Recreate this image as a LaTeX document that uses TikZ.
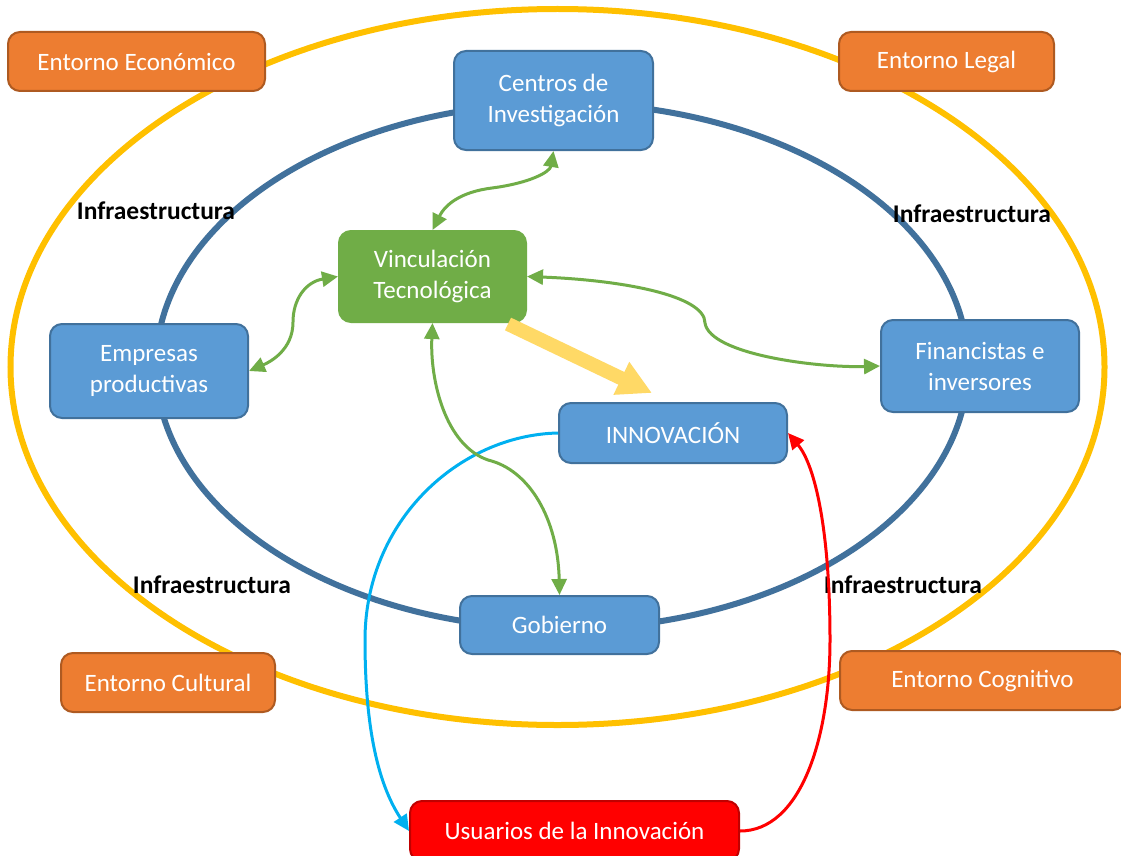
\documentclass[tikz,border=0pt]{standalone}
\usepackage{fontspec}
\setmainfont{Carlito}
\usetikzlibrary{arrows.meta}
\definecolor{orangeF}{HTML}{ED7D31}
\definecolor{orangeD}{HTML}{AE5A21}
\definecolor{blueF}{HTML}{5B9BD5}
\definecolor{blueD}{HTML}{41719C}
\definecolor{greenF}{HTML}{70AD47}
\definecolor{yel}{HTML}{FFC000}
\definecolor{yelA}{HTML}{FFD966}
\definecolor{cyanL}{HTML}{00B0F0}
\definecolor{redD}{HTML}{C00000}
\begin{document}
\begin{tikzpicture}[x=1pt,y=-1pt,
 box/.style={rounded corners=12pt, line width=2pt, inner sep=0pt, align=center, text=white, font=\fontsize{25}{31}\selectfont},
 orangebox/.style={box, fill=orangeF, draw=orangeD},
 bluebox/.style={box, fill=blueF, draw=blueD},
 greenbox/.style={box, fill=greenF, draw=greenF},
 redbox/.style={box, fill=red, draw=redD},
 lbl/.style={font=\fontsize{25.5}{30}\selectfont\bfseries, text=black, inner sep=0pt},
 garrow/.style={draw=greenF, line width=3pt, {Triangle[length=16pt,width=15pt]}-{Triangle[length=16pt,width=15pt]}},
 carrow/.style={line width=3pt, -{Triangle[length=16pt,width=15pt]}},
]
\useasboundingbox (0,0) rectangle (1121,856);
\fill[white] (0,0) rectangle (1121,856);
% ellipses
\draw[yel, line width=6pt] (557.5,367) ellipse [x radius=547, y radius=358];
\draw[blueD, line width=6pt] (562,366) ellipse [x radius=406, y radius=263];
% labels
\node[lbl] (i1) at (156,211) {Infraestructura};
\node[lbl] (i2) at (972,214) {Infraestructura};
\node[lbl] (i3) at (212,585) {Infraestructura};
\node[lbl] (i4) at (903,585) {Infraestructura};
% nodes
\node[orangebox, minimum width=257pt, minimum height=59pt] (eco) at (136.5,61.5) {Entorno Económico};
\node[orangebox, minimum width=215pt, minimum height=59pt] (legal) at (946.5,61.5) {Entorno Legal};
\node[orangebox, minimum width=214pt, minimum height=59pt] (cult) at (168,682.5) {Entorno Cultural};
\node[orangebox, minimum width=285pt, minimum height=59pt] (cogn) at (982.5,680.5) {Entorno Cognitivo};
\node[bluebox, minimum width=199pt, minimum height=99pt] (centros) at (553.5,100.5) {Centros de\\Investigación};
\node[greenbox, minimum width=187pt, minimum height=91pt] (vinc) at (432.5,276.5) {Vinculación\\Tecnológica};
\node[bluebox, minimum width=198pt, minimum height=94pt] (emp) at (149,371) {Empresas\\productivas};
\node[bluebox, minimum width=198pt, minimum height=92pt] (fin) at (980,366) {Financistas e\\inversores};
\node[bluebox, minimum width=228pt, minimum height=60pt] (innov) at (673,433) {INNOVACIÓN};
\node[bluebox, minimum width=199pt, minimum height=58pt] (gob) at (559.5,625) {Gobierno};
\node[redbox, minimum width=329pt, minimum height=60pt] (usu) at (574.5,831) {Usuarios de la Innovación};
% green connectors
\draw[garrow] (vinc.north) .. controls (445,205) and (460,192) .. (492,188) .. controls (530,183) and (550,172) .. (centros.south);
\draw[garrow] (vinc.west) .. controls (305,282) and (293,300) .. (293,322) .. controls (293,350) and (270,362) .. (emp.east);
\draw[garrow] (vinc.east) .. controls (620,280) and (705,295) .. (705,323) .. controls (710,355) and (820,368) .. (fin.west);
\draw[cyanL, carrow] (innov.west) .. controls (460,435) and (365,520) .. (365,640) .. controls (365,740) and (382,790) .. (usu.west);
\draw[garrow] (vinc.south) .. controls (430,380) and (445,445) .. (488,460) .. controls (530,470) and (558,520) .. (gob.north);
\draw[red, carrow] (usu.east) .. controls (800,831) and (830,740) .. (830,640) .. controls (830,530) and (815,465) .. (innov.east);
% yellow arrow
\coordinate (ya) at (508,324);
\coordinate (yb) at (652,393);
\draw[yelA, line width=14pt, -{Triangle[length=34pt,width=34pt]}] (ya) -- (yb);
\end{tikzpicture}
\end{document}
